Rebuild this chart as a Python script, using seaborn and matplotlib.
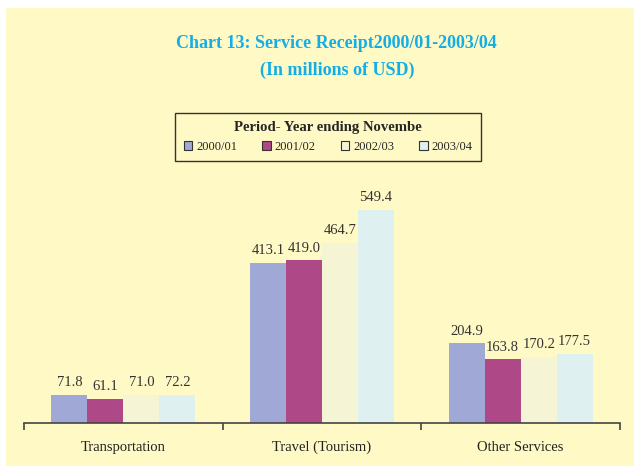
import matplotlib
matplotlib.use("Agg")
import matplotlib.pyplot as plt
import matplotlib.patches as mpatches
import seaborn as sns
import pandas as pd

# data
categories = ["Transportation", "Travel (Tourism)", "Other Services"]
periods = ["2000/01", "2001/02", "2002/03", "2003/04"]
receipts = {
    "2000/01": [71.8, 413.1, 204.9],
    "2001/02": [61.1, 419.0, 163.8],
    "2002/03": [71.0, 464.7, 170.2],
    "2003/04": [72.2, 549.4, 177.5],
}
colors = ["#A0A8D5", "#AE4886", "#F5F5D6", "#DEF1F0"]

rows = []
for p in periods:
    for c, v in zip(categories, receipts[p]):
        rows.append({"category": c, "period": p, "value": v})
df = pd.DataFrame(rows)

bg = "#FFF9C5"
serif = ["Liberation Serif", "DejaVu Serif"]

sns.set_style("white")
plt.rcParams["font.family"] = serif

fig = plt.figure(figsize=(6.34, 4.66), dpi=100, facecolor="white")
fig.patches.append(mpatches.Rectangle((6 / 634, 0), 1, (466 - 8) / 466,
                                      transform=fig.transFigure, facecolor=bg,
                                      edgecolor="none", zorder=-10))
ax = fig.add_axes([24 / 634, 43.5 / 466, 596 / 634, 322.5 / 466])
ax.set_facecolor("none")

sns.barplot(data=df, x="category", y="value", hue="period", order=categories,
            hue_order=periods, palette=colors, width=0.725, saturation=1,
            linewidth=0, edgecolor="none", ax=ax, legend=True)

for cont in ax.containers:
    ax.bar_label(cont, fmt="%.1f", padding=4, fontsize=10.5, color="#333333")

ax.set_xlim(-0.5, 2.5)
ax.set_ylim(0, 834)
ax.set_yticks([])
ax.set_xlabel("")
ax.set_ylabel("")
for s in ["top", "right", "left"]:
    ax.spines[s].set_visible(False)
ax.spines["bottom"].set_color("#444444")
ax.spines["bottom"].set_linewidth(1.2)

ax.set_xticks([-0.5, 0.5, 1.5, 2.5])
ax.set_xticklabels([])
ax.tick_params(axis="x", which="major", direction="out", length=5,
               width=1.2, color="#444444", bottom=True)
ax.set_xticks([0, 1, 2], minor=True)
ax.set_xticklabels(categories, minor=True, fontsize=10.5, color="#222222")
ax.tick_params(axis="x", which="minor", length=0, pad=13)

handles, labels = ax.get_legend_handles_labels()
for h in handles:
    h.set_edgecolor("#333333")
    h.set_linewidth(0.8)
ax.legend_.remove()
leg = fig.legend(handles, labels, ncol=4, loc="center",
                 bbox_to_anchor=(328 / 634, (466 - 137) / 466),
                 title="Period- Year ending Novembe",
                 title_fontproperties={"weight": "bold", "size": 10.6, "family": serif},
                 prop={"size": 9, "family": serif},
                 handlelength=0.7, handleheight=0.7, handletextpad=0.3,
                 columnspacing=2.0, borderpad=0.7, facecolor=bg,
                 edgecolor="#333333", fancybox=False, framealpha=1)
leg.get_frame().set_linewidth(1.0)

fig.text(336 / 634, 1 - 44 / 466, "Chart 13: Service Receipt2000/01-2003/04",
         ha="center", va="center", fontsize=13, fontweight="bold",
         color="#14AEE6")
fig.text(337 / 634, 1 - 70 / 466, "(In millions of USD)",
         ha="center", va="center", fontsize=13, fontweight="bold",
         color="#14AEE6")

fig.savefig("out.png", dpi=100, facecolor=fig.get_facecolor())
